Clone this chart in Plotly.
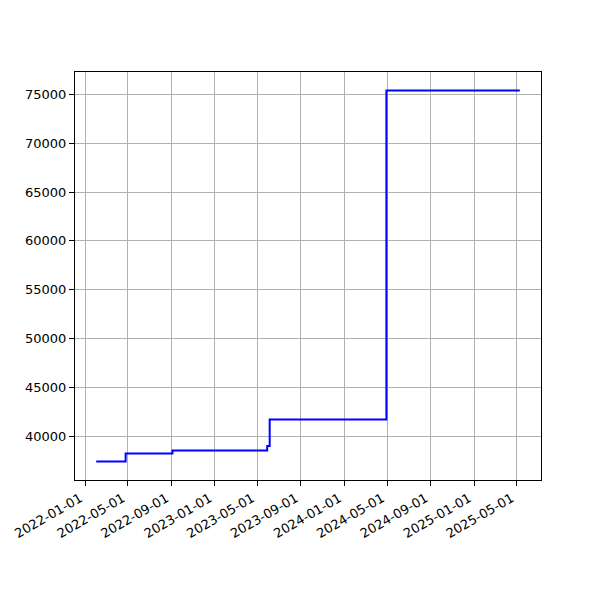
import plotly.graph_objects as go
import pandas as pd

# Change points of the step series (value holds until the next date)
dates = ["2022-02-01", "2022-04-25", "2022-09-04", "2023-05-29", "2023-06-05", "2024-04-29", "2025-05-10"]
values = [37400, 38220, 38520, 38980, 41700, 75400, 75400]

d = pd.to_datetime(dates)
span = d.max() - d.min()
x_range = [d.min() - span * 0.05, d.max() + span * 0.05]
vspan = max(values) - min(values)
y_range = [min(values) - vspan * 0.05, max(values) + vspan * 0.05]

fig = go.Figure()
fig.add_trace(go.Scatter(
    x=d, y=values, mode="lines", line_shape="hv",
    line=dict(color="blue", width=2), showlegend=False,
))

axis_common = dict(
    showline=True, linecolor="black", linewidth=1, mirror=True,
    ticks="outside", ticklen=5, tickwidth=1, tickcolor="black",
    showgrid=True, gridcolor="#b0b0b0", gridwidth=1, zeroline=False,
    tickfont=dict(family="DejaVu Sans", size=13, color="black"),
    automargin=False,
)

fig.update_layout(
    width=600, height=600,
    margin=dict(l=67, r=67, t=64, b=128),
    plot_bgcolor="white", paper_bgcolor="white",
    xaxis=dict(range=x_range, tick0="2022-01-01", dtick="M4",
               tickformat="%Y-%m-%d", tickangle=-30, ticklabelshift=-5,
               **axis_common),
    yaxis=dict(range=y_range, tick0=0, dtick=5000, tickformat="d", **axis_common),
)

fig.write_html("out.html")
